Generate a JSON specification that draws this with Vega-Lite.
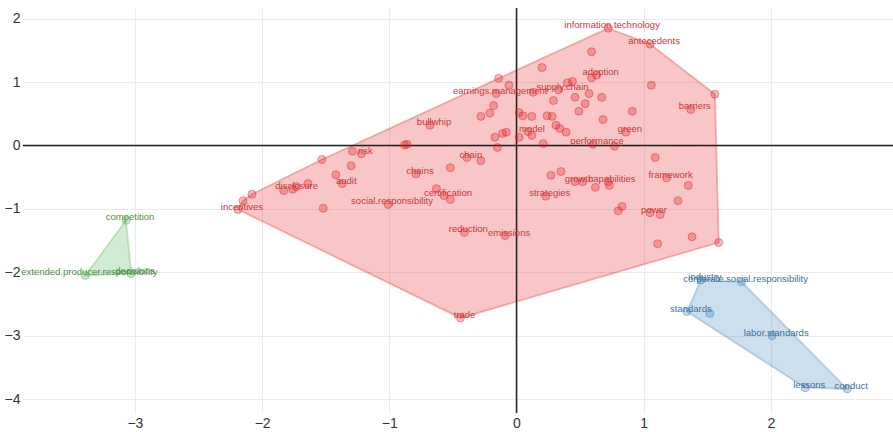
{
  "$schema": "https://vega.github.io/schema/vega-lite/v6.json",
  "width": 870,
  "height": 405,
  "autosize": "none",
  "padding": {"left": 23, "top": 8, "right": 0, "bottom": 19},
  "background": "white",
  "config": {
    "view": {"stroke": null},
    "axis": {
      "domain": false, "ticks": false, "grid": true, "gridColor": "#ebebeb", "gridWidth": 1,
      "labelFont": "Liberation Sans", "labelFontSize": 14, "labelColor": "#333333", "title": null, "format": "d"
    }
  },
  "datasets": {
    "pts": [
      {"cluster": "1", "x": -2.19, "y": -1.01, "label": "incentives"},
      {"cluster": "1", "x": -2.15, "y": -0.87, "label": ""},
      {"cluster": "1", "x": -2.08, "y": -0.77, "label": ""},
      {"cluster": "1", "x": -1.53, "y": -0.22, "label": ""},
      {"cluster": "1", "x": -1.29, "y": -0.09, "label": ""},
      {"cluster": "1", "x": -1.22, "y": -0.13, "label": "risk"},
      {"cluster": "1", "x": -1.30, "y": -0.32, "label": ""},
      {"cluster": "1", "x": -1.42, "y": -0.46, "label": ""},
      {"cluster": "1", "x": -1.37, "y": -0.60, "label": "audit"},
      {"cluster": "1", "x": -1.83, "y": -0.71, "label": ""},
      {"cluster": "1", "x": -1.76, "y": -0.69, "label": "disclosure"},
      {"cluster": "1", "x": -1.73, "y": -0.65, "label": ""},
      {"cluster": "1", "x": -1.64, "y": -0.60, "label": ""},
      {"cluster": "1", "x": -1.52, "y": -0.99, "label": ""},
      {"cluster": "1", "x": -1.01, "y": -0.93, "label": "social.responsibility"},
      {"cluster": "1", "x": -0.68, "y": 0.32, "label": "bullwhip"},
      {"cluster": "1", "x": -0.86, "y": 0.02, "label": ""},
      {"cluster": "1", "x": -0.88, "y": 0.01, "label": ""},
      {"cluster": "1", "x": -0.28, "y": 0.46, "label": ""},
      {"cluster": "1", "x": -0.21, "y": 0.51, "label": ""},
      {"cluster": "1", "x": -0.18, "y": 0.63, "label": ""},
      {"cluster": "1", "x": -0.14, "y": 1.06, "label": ""},
      {"cluster": "1", "x": -0.06, "y": 0.95, "label": ""},
      {"cluster": "1", "x": -0.16, "y": 0.82, "label": "earnings.management"},
      {"cluster": "1", "x": 0.13, "y": 0.84, "label": ""},
      {"cluster": "1", "x": 0.20, "y": 1.23, "label": ""},
      {"cluster": "1", "x": 0.29, "y": 0.71, "label": ""},
      {"cluster": "1", "x": 0.02, "y": 0.52, "label": ""},
      {"cluster": "1", "x": 0.05, "y": 0.47, "label": ""},
      {"cluster": "1", "x": 0.12, "y": 0.46, "label": ""},
      {"cluster": "1", "x": 0.09, "y": 0.22, "label": "model"},
      {"cluster": "1", "x": 0.12, "y": 0.16, "label": ""},
      {"cluster": "1", "x": 0.24, "y": 0.47, "label": ""},
      {"cluster": "1", "x": 0.28, "y": 0.46, "label": ""},
      {"cluster": "1", "x": 0.31, "y": 0.32, "label": ""},
      {"cluster": "1", "x": -0.17, "y": 0.13, "label": ""},
      {"cluster": "1", "x": -0.11, "y": 0.19, "label": ""},
      {"cluster": "1", "x": -0.08, "y": 0.21, "label": ""},
      {"cluster": "1", "x": -0.15, "y": -0.03, "label": ""},
      {"cluster": "1", "x": 0.02, "y": 0.13, "label": ""},
      {"cluster": "1", "x": 0.21, "y": 0.03, "label": ""},
      {"cluster": "1", "x": 0.72, "y": 1.85, "label": "information.technology"},
      {"cluster": "1", "x": 1.05, "y": 1.60, "label": "antecedents"},
      {"cluster": "1", "x": 0.59, "y": 1.48, "label": ""},
      {"cluster": "1", "x": 0.59, "y": 1.07, "label": ""},
      {"cluster": "1", "x": 0.63, "y": 1.11, "label": "adoption"},
      {"cluster": "1", "x": 0.40, "y": 0.99, "label": ""},
      {"cluster": "1", "x": 0.44, "y": 1.01, "label": ""},
      {"cluster": "1", "x": 0.33, "y": 0.88, "label": "supply.chain"},
      {"cluster": "1", "x": 1.06, "y": 0.95, "label": ""},
      {"cluster": "1", "x": 1.56, "y": 0.81, "label": ""},
      {"cluster": "1", "x": 1.37, "y": 0.57, "label": "barriers"},
      {"cluster": "1", "x": 0.46, "y": 0.76, "label": ""},
      {"cluster": "1", "x": 0.57, "y": 0.82, "label": ""},
      {"cluster": "1", "x": 0.67, "y": 0.76, "label": ""},
      {"cluster": "1", "x": 0.54, "y": 0.66, "label": ""},
      {"cluster": "1", "x": 0.49, "y": 0.54, "label": ""},
      {"cluster": "1", "x": 0.91, "y": 0.54, "label": ""},
      {"cluster": "1", "x": 0.68, "y": 0.41, "label": ""},
      {"cluster": "1", "x": 0.34, "y": 0.27, "label": ""},
      {"cluster": "1", "x": 0.39, "y": 0.21, "label": ""},
      {"cluster": "1", "x": 0.86, "y": 0.21, "label": "green"},
      {"cluster": "1", "x": 0.60, "y": 0.02, "label": "performance"},
      {"cluster": "1", "x": 0.77, "y": -0.01, "label": ""},
      {"cluster": "1", "x": 1.09, "y": -0.19, "label": ""},
      {"cluster": "1", "x": 1.18, "y": -0.51, "label": "framework"},
      {"cluster": "1", "x": 1.35, "y": -0.63, "label": ""},
      {"cluster": "1", "x": 1.27, "y": -0.87, "label": ""},
      {"cluster": "1", "x": 0.27, "y": -0.47, "label": ""},
      {"cluster": "1", "x": 0.35, "y": -0.41, "label": ""},
      {"cluster": "1", "x": 0.46, "y": -0.57, "label": "growth"},
      {"cluster": "1", "x": 0.52, "y": -0.57, "label": ""},
      {"cluster": "1", "x": 0.62, "y": -0.66, "label": ""},
      {"cluster": "1", "x": 0.72, "y": -0.57, "label": "capabilities"},
      {"cluster": "1", "x": 0.73, "y": -0.63, "label": ""},
      {"cluster": "1", "x": 0.23, "y": -0.80, "label": "strategies"},
      {"cluster": "1", "x": 0.80, "y": -1.03, "label": ""},
      {"cluster": "1", "x": 0.83, "y": -0.96, "label": ""},
      {"cluster": "1", "x": 1.05, "y": -1.06, "label": "power"},
      {"cluster": "1", "x": 1.13, "y": -1.09, "label": ""},
      {"cluster": "1", "x": 1.38, "y": -1.44, "label": ""},
      {"cluster": "1", "x": 1.11, "y": -1.55, "label": ""},
      {"cluster": "1", "x": 1.59, "y": -1.53, "label": ""},
      {"cluster": "1", "x": -0.39, "y": -0.19, "label": "chain"},
      {"cluster": "1", "x": -0.28, "y": -0.24, "label": ""},
      {"cluster": "1", "x": -0.52, "y": -0.35, "label": ""},
      {"cluster": "1", "x": -0.79, "y": -0.45, "label": "chains"},
      {"cluster": "1", "x": -0.63, "y": -0.68, "label": ""},
      {"cluster": "1", "x": -0.57, "y": -0.79, "label": "certification"},
      {"cluster": "1", "x": -0.52, "y": -0.85, "label": ""},
      {"cluster": "1", "x": -0.41, "y": -1.37, "label": "reduction"},
      {"cluster": "1", "x": -0.09, "y": -1.42, "label": "emissions"},
      {"cluster": "1", "x": -0.44, "y": -2.72, "label": "trade"},
      {"cluster": "2", "x": -3.07, "y": -1.18, "label": "competition"},
      {"cluster": "2", "x": -3.39, "y": -2.05, "label": "extended.producer.responsibility"},
      {"cluster": "2", "x": -3.03, "y": -2.02, "label": "decisions"},
      {"cluster": "3", "x": 1.45, "y": -2.12, "label": "industry"},
      {"cluster": "3", "x": 1.77, "y": -2.15, "label": "corporate.social.responsibility"},
      {"cluster": "3", "x": 1.34, "y": -2.62, "label": "standards"},
      {"cluster": "3", "x": 1.52, "y": -2.65, "label": ""},
      {"cluster": "3", "x": 2.01, "y": -3.00, "label": "labor.standards"},
      {"cluster": "3", "x": 2.27, "y": -3.82, "label": "lessons"},
      {"cluster": "3", "x": 2.60, "y": -3.84, "label": "conduct"}
    ],
    "hull": [
      {"cluster": "1", "ord": 1, "x": -2.19, "y": -1.01},
      {"cluster": "1", "ord": 2, "x": -2.15, "y": -0.87},
      {"cluster": "1", "ord": 3, "x": -2.08, "y": -0.77},
      {"cluster": "1", "ord": 4, "x": -1.53, "y": -0.22},
      {"cluster": "1", "ord": 5, "x": -0.14, "y": 1.06},
      {"cluster": "1", "ord": 6, "x": 0.72, "y": 1.85},
      {"cluster": "1", "ord": 7, "x": 1.05, "y": 1.60},
      {"cluster": "1", "ord": 8, "x": 1.56, "y": 0.81},
      {"cluster": "1", "ord": 9, "x": 1.59, "y": -1.53},
      {"cluster": "1", "ord": 10, "x": -0.44, "y": -2.72},
      {"cluster": "1", "ord": 11, "x": -2.19, "y": -1.01},
      {"cluster": "2", "ord": 1, "x": -3.07, "y": -1.18},
      {"cluster": "2", "ord": 2, "x": -3.03, "y": -2.02},
      {"cluster": "2", "ord": 3, "x": -3.39, "y": -2.05},
      {"cluster": "2", "ord": 4, "x": -3.07, "y": -1.18},
      {"cluster": "3", "ord": 1, "x": 1.45, "y": -2.12},
      {"cluster": "3", "ord": 2, "x": 1.77, "y": -2.15},
      {"cluster": "3", "ord": 3, "x": 2.60, "y": -3.84},
      {"cluster": "3", "ord": 4, "x": 2.27, "y": -3.82},
      {"cluster": "3", "ord": 5, "x": 1.34, "y": -2.62},
      {"cluster": "3", "ord": 6, "x": 1.45, "y": -2.12}
    ],
    "zx": [{"v": 0}],
    "zy": [{"v": 0}]
  },
  "layer": [
    {
      "data": {"name": "hull"},
      "mark": {"type": "line", "fillOpacity": 0.25, "strokeOpacity": 0.3, "strokeWidth": 1.8, "interpolate": "linear"},
      "encoding": {
        "x": {"field": "x", "type": "quantitative", "scale": {"domain": [-3.88, 2.96], "nice": false, "zero": false},
              "axis": {"values": [-3, -2, -1, 0, 1, 2], "labelPadding": 3}},
        "y": {"field": "y", "type": "quantitative", "scale": {"domain": [-4.22, 2.17], "nice": false, "zero": false},
              "axis": {"values": [-4, -3, -2, -1, 0, 1, 2], "labelPadding": 3}},
        "stroke": {"field": "cluster", "type": "nominal", "scale": {"domain": ["1", "2", "3"], "range": ["#E41A1C", "#4DAF4A", "#377EB8"]}, "legend": null},
        "fill": {"field": "cluster", "type": "nominal", "scale": {"domain": ["1", "2", "3"], "range": ["#E41A1C", "#4DAF4A", "#377EB8"]}, "legend": null},
        "order": {"field": "ord", "type": "quantitative"}
      }
    },
    {
      "data": {"name": "zx"},
      "mark": {"type": "rule", "color": "#222222", "strokeWidth": 1.5},
      "encoding": {"x": {"field": "v", "type": "quantitative"}}
    },
    {
      "data": {"name": "zy"},
      "mark": {"type": "rule", "color": "#222222", "strokeWidth": 1.5},
      "encoding": {"y": {"field": "v", "type": "quantitative"}}
    },
    {
      "data": {"name": "pts"},
      "mark": {"type": "point", "filled": true, "size": 64, "fillOpacity": 0.3, "strokeOpacity": 0.4, "strokeWidth": 1},
      "encoding": {
        "x": {"field": "x", "type": "quantitative"},
        "y": {"field": "y", "type": "quantitative"},
        "fill": {"field": "cluster", "type": "nominal", "legend": null},
        "stroke": {"field": "cluster", "type": "nominal", "legend": null}
      }
    },
    {
      "data": {"name": "pts"},
      "transform": [{"filter": "datum.label != ''"}],
      "mark": {"type": "text", "font": "Liberation Sans", "fontSize": 9.5, "dx": 4, "dy": -3, "align": "center", "baseline": "middle"},
      "encoding": {
        "x": {"field": "x", "type": "quantitative"},
        "y": {"field": "y", "type": "quantitative"},
        "text": {"field": "label"},
        "color": {"field": "cluster", "type": "nominal", "scale": {"domain": ["1", "2", "3"], "range": ["#c8383a", "#4b8f49", "#3b6f9e"]}, "legend": null}
      }
    }
  ]
}
